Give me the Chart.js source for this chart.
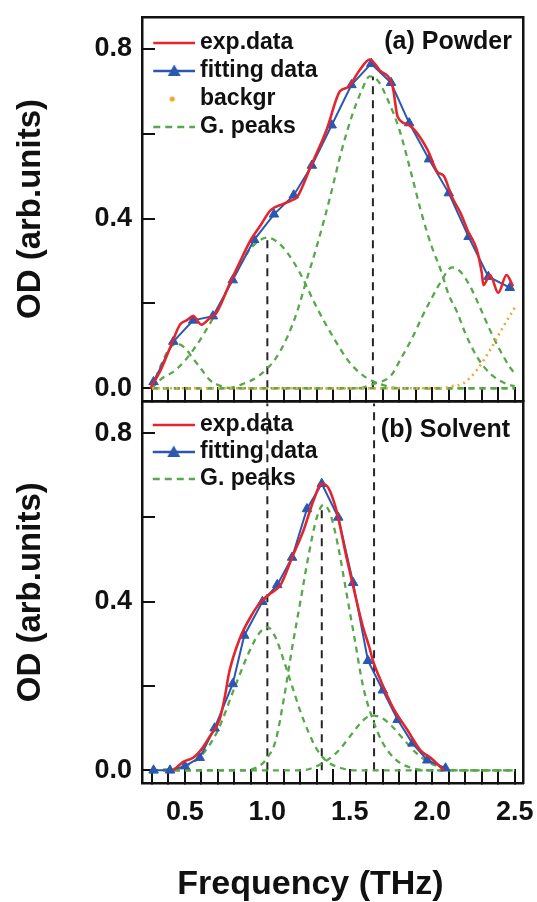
<!DOCTYPE html>
<html><head><meta charset="utf-8">
<script src="https://cdn.jsdelivr.net/npm/chart.js@4/dist/chart.umd.min.js"></script>
<style>
html,body{margin:0;padding:0;background:#fff;}
#wrap{position:relative;width:537px;height:902px;overflow:hidden;background:#fff;}
#c1{position:absolute;left:0;top:0;}
#c2{position:absolute;left:0;top:395px;}
</style></head><body>
<div id="wrap"><canvas id="c1" width="537" height="410"></canvas><canvas id="c2" width="537" height="507"></canvas></div>
<script>
// ---------- (a) Powder ----------
const expA_x = [0.29,0.35,0.42,0.47,0.51,0.55,0.60,0.65,0.69,0.77,0.83,0.90,0.96,1.02,1.10,1.16,1.18,1.26,1.36,1.44,1.49,1.56,1.62,1.68,1.76,1.79,1.86,1.97,2.03,2.07,2.12,2.17,2.22,2.27,2.30,2.31,2.35,2.40,2.45,2.49];
const expA_y = [0.0,0.04,0.105,0.15,0.16,0.17,0.15,0.165,0.177,0.245,0.295,0.35,0.385,0.42,0.435,0.445,0.45,0.52,0.61,0.70,0.71,0.75,0.775,0.75,0.71,0.64,0.62,0.563,0.51,0.50,0.45,0.414,0.367,0.327,0.272,0.243,0.267,0.225,0.267,0.24];
const fitA_x = [0.31,0.43,0.55,0.67,0.79,0.92,1.04,1.16,1.27,1.39,1.51,1.63,1.75,1.86,1.98,2.10,2.22,2.34,2.47];
const fitA_y = [0.015,0.11,0.16,0.17,0.255,0.35,0.41,0.455,0.525,0.62,0.715,0.765,0.72,0.625,0.54,0.46,0.357,0.263,0.237];
const bgA_x = [0.3,2.05,2.12,2.19,2.27,2.35,2.43,2.5];
const bgA_y = [0,0,0.005,0.012,0.043,0.09,0.145,0.19];
const pA1_x = [0.3,0.35,0.4,0.45,0.5,0.55,0.6,0.65,0.72,0.8,2.5];
const pA1_y = [0.0,0.05,0.09,0.105,0.095,0.07,0.045,0.02,0.005,0,0];
const pA2_x = [0.3,0.35,0.45,0.55,0.67,0.78,0.88,0.94,1.0,1.06,1.12,1.2,1.3,1.4,1.5,1.6,1.7,1.8,2.5];
const pA2_y = [0.0,0.02,0.045,0.09,0.165,0.25,0.32,0.345,0.355,0.345,0.32,0.27,0.19,0.12,0.06,0.025,0.008,0,0];
const pA3_x = [0.3,0.75,0.85,0.95,1.05,1.12,1.18,1.23,1.3,1.38,1.45,1.52,1.57,1.62,1.67,1.73,1.8,1.87,1.94,2.0,2.05,2.1,2.15,2.2,2.27,2.35,2.45,2.5];
const pA3_y = [0,0,0.01,0.03,0.07,0.12,0.18,0.245,0.335,0.45,0.56,0.65,0.70,0.735,0.725,0.68,0.61,0.51,0.405,0.33,0.28,0.22,0.18,0.13,0.075,0.035,0.01,0.005];
const pA4_x = [0.3,1.55,1.64,1.75,1.81,1.88,1.94,2.0,2.05,2.12,2.17,2.23,2.29,2.35,2.41,2.47,2.5];
const pA4_y = [0,0,0.01,0.03,0.07,0.12,0.17,0.215,0.25,0.285,0.275,0.24,0.19,0.137,0.09,0.05,0.035];
const markA_x = [1.0, 1.64];
const markA_top = [0.355, 0.735];

// ---------- (b) Solvent ----------
const expB_x = [0.43,0.49,0.55,0.61,0.65,0.71,0.74,0.77,0.83,0.90,0.96,1.02,1.08,1.15,1.22,1.28,1.33,1.37,1.42,1.48,1.53,1.58,1.62,1.64,1.68,1.76,1.85,1.93,1.99,2.07];
const expB_y = [0.0,0.02,0.03,0.055,0.08,0.12,0.17,0.235,0.31,0.365,0.40,0.42,0.44,0.505,0.57,0.64,0.68,0.67,0.615,0.505,0.42,0.34,0.29,0.26,0.22,0.15,0.095,0.047,0.03,0.0];
const fitB_x = [0.31,0.41,0.50,0.59,0.68,0.79,0.86,0.97,1.06,1.15,1.24,1.33,1.43,1.52,1.61,1.70,1.79,1.88,1.97,2.08];
const fitB_y = [0.0,0.0,0.01,0.03,0.10,0.205,0.32,0.40,0.44,0.505,0.62,0.68,0.60,0.445,0.26,0.19,0.12,0.064,0.024,0.005];
const pB1_x = [0.3,0.45,0.5,0.6,0.7,0.8,0.9,0.95,1.0,1.05,1.1,1.15,1.2,1.25,1.3,1.35,1.45,1.55,2.5];
const pB1_y = [0,0.005,0.01,0.035,0.095,0.195,0.29,0.325,0.34,0.315,0.26,0.2,0.14,0.09,0.05,0.025,0.005,0,0];
const pB2_x = [0.3,0.85,0.95,1.0,1.05,1.1,1.15,1.2,1.25,1.3,1.34,1.38,1.43,1.48,1.53,1.58,1.64,1.7,1.78,1.88,2.0,2.5];
const pB2_y = [0,0,0.01,0.03,0.07,0.17,0.29,0.4,0.51,0.6,0.63,0.61,0.53,0.42,0.31,0.2,0.12,0.065,0.025,0.005,0,0];
const pB3_x = [0.3,1.2,1.3,1.4,1.45,1.5,1.55,1.6,1.645,1.7,1.75,1.8,1.85,1.9,1.97,2.05,2.15,2.5];
const pB3_y = [0,0,0.01,0.035,0.055,0.08,0.105,0.125,0.13,0.123,0.107,0.085,0.063,0.042,0.021,0.008,0,0];
const markB_x = [1.0, 1.33, 1.647];
const markB_top = [0.87, 0.63, 0.87];

// ---------- axes / labels ----------
const xRange = [0.24, 2.55];
const yRange = [-0.03, 0.875];
const xStep = 0.1, xLabelEvery = 0.5;
const yStep = 0.2, yLabelEvery = 0.4;
const legendA = ['exp.data', 'fitting data', 'backgr', 'G. peaks'];
const legendB = ['exp.data', 'fitting data', 'G. peaks'];
const panelA = '(a) Powder', panelB = '(b) Solvent';
const yTitle = 'OD (arb.units)', xTitle = 'Frequency (THz)';

const F = "'Liberation Sans', Arial, Helvetica, sans-serif";
const RED = '#e3262d', BLUE = '#2c57b1', GREEN = '#57a84b', ORANGE = '#f3a634', DARK = '#262626', INK = '#111';

const pts = (xs, ys) => xs.map((x, i) => ({x: x, y: ys[i]}));

function sample(kind, color) {
  const c = document.createElement('canvas');
  c.width = 55; c.height = 14;
  const g = c.getContext('2d');
  const x0 = 13, x1 = 55, cy = 7, mid = (x0 + x1) / 2;
  g.strokeStyle = color; g.fillStyle = color;
  if (kind === 'dot') {
    g.beginPath(); g.arc(mid - 2, cy, 2.6, 0, Math.PI * 2); g.fill();
    return c;
  }
  g.lineWidth = kind === 'dash' ? 2.4 : 2.6;
  if (kind === 'dash') g.setLineDash([7, 5]);
  g.beginPath(); g.moveTo(x0, cy); g.lineTo(x1, cy); g.stroke();
  if (kind === 'tri') {
    g.setLineDash([]);
    g.beginPath(); g.moveTo(mid, cy - 6.5); g.lineTo(mid + 6.5, cy + 5); g.lineTo(mid - 6.5, cy + 5); g.closePath(); g.fill();
  }
  return c;
}
const sampleMap = {
  'exp.data': sample('line', RED),
  'fitting data': sample('tri', BLUE),
  'backgr': sample('dot', ORANGE),
  'G. peaks': sample('dash', GREEN)
};
const legendItems = names => names.map((t, i) => ({
  text: t, pointStyle: sampleMap[t], fillStyle: 'rgba(0,0,0,0)', strokeStyle: 'rgba(0,0,0,0)',
  lineWidth: 0, hidden: false, datasetIndex: 0, fontColor: INK
}));

function panelLabel(text, dx, dy) {
  return {
    id: 'panelLabel',
    afterDraw(chart) {
      const {ctx, chartArea} = chart;
      ctx.save();
      ctx.font = 'bold 25px ' + F;
      ctx.fillStyle = INK; ctx.textAlign = 'right'; ctx.textBaseline = 'middle';
      ctx.fillText(text, chartArea.right - dx, chartArea.top + dy);
      ctx.restore();
    }
  };
}

// x-axis title, drawn slightly left of the plot centre as in the reference
const xTitlePlugin = {
  id: 'xTitlePlugin',
  afterDraw(chart) {
    const {ctx, chartArea} = chart;
    ctx.save();
    ctx.font = 'bold 34px ' + F;
    ctx.fillStyle = INK; ctx.textAlign = 'center'; ctx.textBaseline = 'middle';
    ctx.fillText(xTitle, (chartArea.left + chartArea.right) / 2 - 22, chart.height - 17);
    ctx.restore();
  }
};

const expDs = d => ({label: 'exp.data', data: d, borderColor: RED, backgroundColor: RED, borderWidth: 2.6, pointRadius: 0, cubicInterpolationMode: 'monotone', fill: false});
const fitMarkDs = d => ({label: 'fitting data', data: d, showLine: false, pointStyle: 'triangle', pointRadius: 5.5, pointBackgroundColor: BLUE, pointBorderColor: BLUE, borderColor: BLUE, backgroundColor: BLUE});
const fitLineDs = d => ({label: 'fitting line', data: d, borderColor: BLUE, borderWidth: 2, pointRadius: 0, tension: 0, fill: false});
const peakDs = d => ({label: 'G. peaks', data: d, borderColor: GREEN, borderWidth: 2.3, borderDash: [6, 5], pointRadius: 0, cubicInterpolationMode: 'monotone', fill: false});
const bgDs = d => ({label: 'backgr', data: d, borderColor: ORANGE, borderWidth: 2.6, borderDash: [2, 4], pointRadius: 0, cubicInterpolationMode: 'monotone', fill: false});
const markDs = (x, top) => ({label: 'mark', data: [{x: x, y: 0}, {x: x, y: top}], borderColor: DARK, borderWidth: 2, borderDash: [8, 6], pointRadius: 0, fill: false});

const noPad = s => { s.paddingTop = 0; s.paddingBottom = 0; s.paddingLeft = 0; s.paddingRight = 0; };

function scales(showX, xHeight) {
  const frame = {display: true, color: INK, width: 2.5};
  return {
    x: {
      type: 'linear', position: 'bottom', min: xRange[0], max: xRange[1],
      afterFit: s => { s.height = xHeight; noPad(s); },
      ticks: {
        stepSize: xStep, includeBounds: false, autoSkip: false, maxRotation: 0, minRotation: 0, padding: 27,
        font: {family: F, weight: 'bold', size: 27}, color: INK,
        callback: v => (showX && Math.abs(v / xLabelEvery - Math.round(v / xLabelEvery)) < 1e-6) ? v.toFixed(1) : ''
      },
      grid: {display: true, drawOnChartArea: false, drawTicks: true, tickLength: -14, color: INK, lineWidth: 2},
      border: frame,
      title: {display: false, text: xTitle}
    },
    y: {
      type: 'linear', position: 'left', min: yRange[0], max: yRange[1],
      afterFit: s => { s.width = 142; noPad(s); },
      ticks: {
        stepSize: yStep, includeBounds: false, autoSkip: false, padding: 23,
        font: {family: F, weight: 'bold', size: 27}, color: INK,
        callback: v => (Math.abs(v / yLabelEvery - Math.round(v / yLabelEvery)) < 1e-6) ? v.toFixed(1) : ''
      },
      grid: {display: true, drawOnChartArea: false, drawTicks: true, tickLength: -13, color: INK, lineWidth: 2},
      border: frame,
      title: {display: true, text: yTitle, color: INK, font: {family: F, weight: 'bold', size: 33, lineHeight: 1.2}, padding: {top: 11, bottom: 0}}
    },
    x2: {
      type: 'linear', position: 'top', min: xRange[0], max: xRange[1],
      afterFit: s => { s.height = 0; noPad(s); },
      ticks: {display: false}, grid: {display: false, drawTicks: false}, border: frame
    },
    y2: {
      type: 'linear', position: 'right', min: yRange[0], max: yRange[1],
      afterFit: s => { s.width = 0; noPad(s); },
      ticks: {display: false}, grid: {display: false, drawTicks: false}, border: frame
    }
  };
}

function legendOpts(names, pad, titlePad, psw) {
  return {
    display: true, position: 'chartArea', align: 'start',
    title: {display: true, text: ' ', padding: {top: titlePad / 2, bottom: titlePad / 2}, font: {size: 1, lineHeight: 1.2}},
    labels: {
      usePointStyle: true, pointStyleWidth: psw, padding: pad, color: INK,
      font: {family: F, weight: 'bold', size: 23},
      generateLabels: () => legendItems(names)
    }
  };
}

Chart.defaults.font.family = F;

new Chart(document.getElementById('c1'), {
  type: 'line',
  data: {
    datasets: [
      expDs(pts(expA_x, expA_y)),
      fitMarkDs(pts(fitA_x, fitA_y)),
      fitLineDs(pts(fitA_x, fitA_y)),
      bgDs(pts(bgA_x, bgA_y)),
      peakDs(pts(pA1_x, pA1_y)),
      peakDs(pts(pA2_x, pA2_y)),
      peakDs(pts(pA3_x, pA3_y)),
      peakDs(pts(pA4_x, pA4_y)),
      ...markA_x.map((x, i) => markDs(x, markA_top[i]))
    ]
  },
  options: {
    responsive: false, animation: false, devicePixelRatio: 1, events: [],
    layout: {padding: {left: 0, right: 14, top: 17, bottom: 0}},
    scales: scales(false, 9),
    plugins: {tooltip: {enabled: false}, legend: legendOpts(legendA, 5, 25.3, 41.5)}
  },
  plugins: [panelLabel(panelA, 11, 25)]
});

new Chart(document.getElementById('c2'), {
  type: 'line',
  data: {
    datasets: [
      expDs(pts(expB_x, expB_y)),
      fitMarkDs(pts(fitB_x, fitB_y)),
      fitLineDs(pts(fitB_x, fitB_y)),
      peakDs(pts(pB1_x, pB1_y)),
      peakDs(pts(pB2_x, pB2_y)),
      peakDs(pts(pB3_x, pB3_y)),
      ...markB_x.map((x, i) => markDs(x, markB_top[i]))
    ]
  },
  options: {
    responsive: false, animation: false, devicePixelRatio: 1, events: [],
    layout: {padding: {left: 0, right: 14, top: 6, bottom: 0}},
    scales: scales(true, 119),
    plugins: {tooltip: {enabled: false}, legend: legendOpts(legendB, 4, 13.3, 42.5)}
  },
  plugins: [panelLabel(panelB, 13, 29), xTitlePlugin]
});
</script></body></html>
